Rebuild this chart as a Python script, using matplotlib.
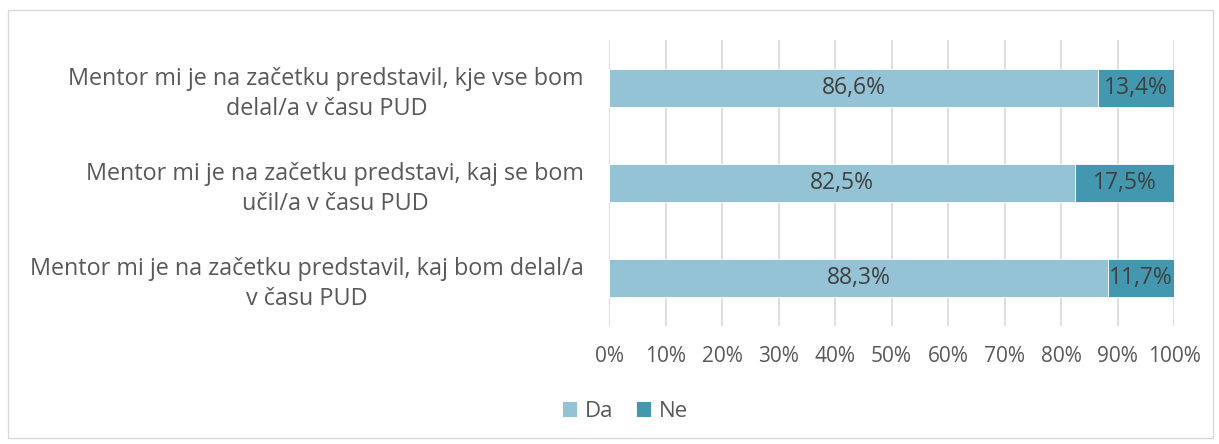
import matplotlib
matplotlib.use("Agg")
import matplotlib.pyplot as plt
from matplotlib.patches import Rectangle

categories = [
    "Mentor mi je na začetku predstavil, kaj bom delal/a\nv času PUD",
    "Mentor mi je na začetku predstavi, kaj se bom\nučil/a v času PUD",
    "Mentor mi je na začetku predstavil, kje vse bom\ndelal/a v času PUD",
]
da = [88.3, 82.5, 86.6]
ne = [11.7, 17.5, 13.4]
series_names = ["Da", "Ne"]
xticks = [0, 10, 20, 30, 40, 50, 60, 70, 80, 90, 100]

plt.rcParams['font.family'] = ['Open Sans', 'DejaVu Sans']
col_da = "#93C3D5"
col_ne = "#4397AE"
txt = "#595959"

fig = plt.figure(figsize=(12.19, 4.44), dpi=100)
fig.patches.append(Rectangle((8/1219, 6/444), 1205/1219, 428/444, transform=fig.transFigure,
                             fill=False, edgecolor="#D9D9D9", linewidth=1))
ax = fig.add_axes([609/1219, 1-325.5/444, (1174-609)/1219, (325.5-40.5)/444])

y = list(range(len(categories)))
b1 = ax.barh(y, da, height=0.39, color=col_da, edgecolor="white", linewidth=0.6, label=series_names[0], zorder=3)
b2 = ax.barh(y, ne, left=da, height=0.39, color=col_ne, edgecolor="white", linewidth=0.6, label=series_names[1], zorder=3)

for i in y:
    ax.text(da[i]/2, i, f"{da[i]:.1f}%".replace(".", ","), ha="center", va="center",
            fontsize=16.5, color="#404040", zorder=4)
    ax.text(da[i] + ne[i]/2, i, f"{ne[i]:.1f}%".replace(".", ","), ha="center", va="center",
            fontsize=16.5, color="#404040", zorder=4)

ax.set_xlim(0, 100)
ax.set_ylim(-0.5, 2.5)
ax.set_xticks(xticks)
ax.set_xticklabels([f"{t}%" for t in xticks], fontsize=15, color=txt)
ax.set_yticks(y)
ax.set_yticklabels(categories, fontsize=16.8, color=txt, multialignment="center", linespacing=1.32)
ax.tick_params(axis="both", length=0)
ax.tick_params(axis="x", pad=15)
ax.tick_params(axis="y", pad=18)
ax.grid(axis="x", color="#D9D9D9", linewidth=1.2, zorder=0)
for s in ax.spines.values():
    s.set_visible(False)

leg = fig.legend(handles=[b1, b2], labels=series_names, loc="center", bbox_to_anchor=(625/1219, 1-411/444),
                 ncol=2, frameon=False, fontsize=16, handlelength=0.7, handleheight=0.7,
                 handletextpad=0.35, columnspacing=1.0)
for t in leg.get_texts():
    t.set_color(txt)

fig.savefig("out.png", dpi=100)
